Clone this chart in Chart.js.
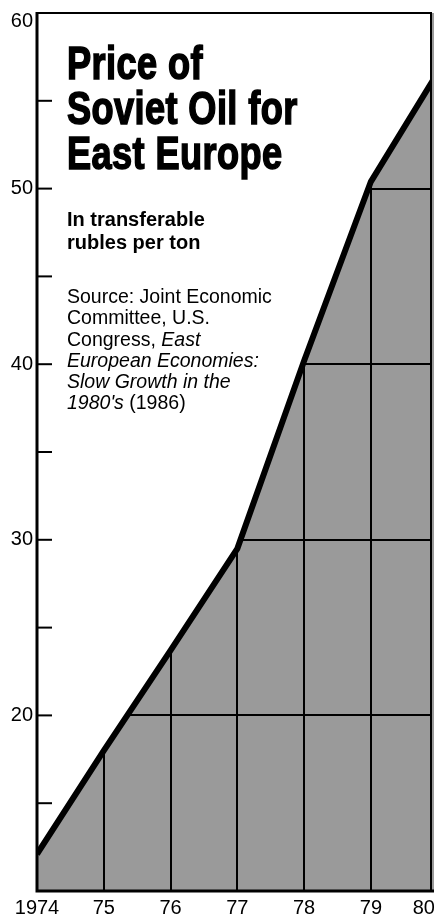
<!DOCTYPE html>
<html>
<head>
<meta charset="utf-8">
<script src="https://cdn.jsdelivr.net/npm/chart.js@4.4.1/dist/chart.umd.min.js"></script>
<style>
html,body{margin:0;padding:0;background:#fff;overflow:hidden;width:434px;height:918px;}
#wrap{position:relative;width:434px;height:918px;}
#c{position:absolute;left:0;top:0;}
.txt{position:absolute;left:67px;color:#000;white-space:nowrap;}
#title{top:40px;font-family:"Liberation Sans",Arial,sans-serif;font-weight:bold;font-size:47px;line-height:45px;-webkit-text-stroke:1.6px #000;transform:scaleX(0.77);transform-origin:0 0;letter-spacing:0.5px;}
#sub{top:208px;font-family:"Liberation Sans",Arial,sans-serif;font-weight:bold;font-size:20px;line-height:23px;}
#src{top:286px;font-family:"Liberation Sans",Arial,sans-serif;font-size:19.5px;line-height:21.3px;}
</style>
</head>
<body>
<div id="wrap">
<canvas id="c" width="434" height="918"></canvas>
<div class="txt" id="title">Price of<br>Soviet Oil for<br>East Europe</div>
<div class="txt" id="sub">In transferable<br>rubles per ton</div>
<div class="txt" id="src">Source: Joint Economic<br>Committee, U.S.<br>Congress, <i>East</i><br><i>European Economies:</i><br><i>Slow Growth in the</i><br><i>1980's</i> (1986)</div>
</div>
<script>
// ---- data ----
const years = [1974, 1975, 1976, 1977, 1978, 1979, 1980];
const prices = [12.1, 18.0, 23.7, 29.5, 40.2, 50.4, 56.6];
const xTickYears = [1974, 1975, 1976, 1977, 1978, 1979, 1980];
const xGridYears = [1975, 1976, 1977, 1978, 1979];
const yLabelValues = [20, 30, 40, 50, 60];
const yGridValues = [20, 30, 40, 50];
const yTickMarkValues = [15, 20, 25, 30, 35, 40, 45, 50, 55];

const fillGrey = '#9a9a9a';

const framePlugin = {
  id: 'frame',
  beforeDraw(chart) {
    const {ctx, chartArea: a} = chart;
    ctx.save();
    ctx.fillStyle = fillGrey;
    ctx.fillRect(a.left, a.top, chart.width - a.left, a.bottom - a.top);
    ctx.restore();
  },
  afterDatasetsDraw(chart) {
    const {ctx, chartArea: a} = chart;
    const ys = chart.scales.y;
    ctx.save();
    ctx.strokeStyle = '#000';
    ctx.lineCap = 'butt';
    ctx.lineWidth = 2;
    yTickMarkValues.forEach(v => {
      const y = ys.getPixelForValue(v);
      ctx.beginPath();
      ctx.moveTo(a.left, y);
      ctx.lineTo(a.left + 15, y);
      ctx.stroke();
    });
    ctx.lineWidth = 2;
    ctx.beginPath();
    ctx.moveTo(a.left, a.top);
    ctx.lineTo(a.right, a.top);
    ctx.lineTo(a.right, a.bottom);
    ctx.stroke();
    ctx.lineWidth = 3;
    ctx.beginPath();
    ctx.moveTo(a.left, a.top - 1);
    ctx.lineTo(a.left, a.bottom);
    ctx.lineTo(chart.width, a.bottom);
    ctx.stroke();
    ctx.restore();
  }
};

new Chart(document.getElementById('c'), {
  type: 'line',
  data: {
    datasets: [{
      data: years.map((x, i) => ({x, y: prices[i]})),
      borderColor: '#000',
      borderWidth: 6,
      backgroundColor: '#ffffff',
      fill: 'end',
      pointRadius: 0,
      tension: 0,
      borderJoinStyle: 'miter'
    }]
  },
  options: {
    responsive: false,
    animation: false,
    events: [],
    layout: {padding: {top: 13, right: 3, left: 0, bottom: 0}},
    plugins: {legend: {display: false}, tooltip: {enabled: false}, title: {display: false}},
    scales: {
      x: {
        type: 'linear',
        min: 1974,
        max: 1979.9,
        afterBuildTicks(s) { s.ticks = xTickYears.map(v => ({value: v})); },
        afterFit(s) { s.height = 27; s.paddingLeft = 0; s.paddingRight = 0; },
        border: {display: false},
        grid: {
          drawTicks: false,
          lineWidth: 2,
          color: c => (c.tick && xGridYears.includes(c.tick.value)) ? '#000' : 'rgba(0,0,0,0)'
        },
        ticks: {
          autoSkip: false,
          maxRotation: 0,
          padding: 5,
          color: '#000',
          font: {family: '"Liberation Sans", Arial, sans-serif', size: 20},
          callback: v => v === 1974 ? '1974' : (v === 1980 ? '80     ' : String(v).slice(2))
        }
      },
      y: {
        type: 'linear',
        min: 10,
        max: 60,
        afterBuildTicks(s) {
          const t = [];
          for (let v = 10; v <= 60; v += 5) t.push({value: v});
          s.ticks = t;
        },
        afterFit(s) { s.width = 37; s.paddingTop = 0; s.paddingBottom = 0; },
        border: {display: false},
        grid: {
          drawTicks: false,
          lineWidth: 2,
          color: c => (c.tick && yGridValues.includes(c.tick.value)) ? '#000' : 'rgba(0,0,0,0)'
        },
        ticks: {
          padding: 4,
          color: '#000',
          font: {family: '"Liberation Sans", Arial, sans-serif', size: 20, lineHeight: 0.85},
          callback: v => yLabelValues.includes(v) ? (v === 60 ? ['', '60'] : String(v)) : ''
        }
      }
    }
  },
  plugins: [framePlugin]
});
</script>
</body>
</html>
